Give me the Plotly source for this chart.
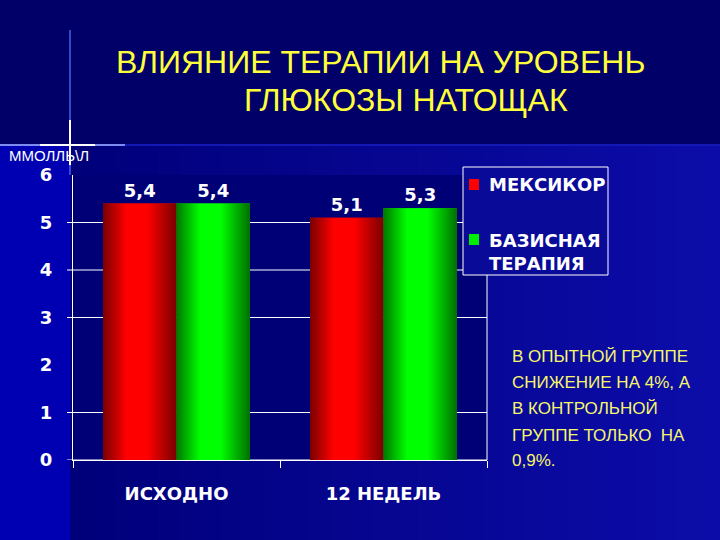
import plotly.graph_objects as go

# ---------------- data ----------------
categories = ["ИСХОДНО", "12 НЕДЕЛЬ"]
series_names = ["МЕКСИКОР", "БАЗИСНАЯ ТЕРАПИЯ"]
mexicor = [5.4, 5.1]
basic = [5.4, 5.3]
y_tick_vals = [0, 1, 2, 3, 4, 5, 6]
grid_vals = [0, 1, 3, 4, 5]
title_lines = ["ВЛИЯНИЕ ТЕРАПИИ НА УРОВЕНЬ", "ГЛЮКОЗЫ НАТОЩАК"]
unit_label = "ММОЛЛЬ\\Л"
legend_lines = [["МЕКСИКОР"], ["БАЗИСНАЯ", "ТЕРАПИЯ"]]
note_lines = ["В ОПЫТНОЙ ГРУППЕ", "СНИЖЕНИЕ НА 4%, А", "В КОНТРОЛЬНОЙ",
              "ГРУППЕ ТОЛЬКО  НА", "0,9%."]

# ---------------- styling ----------------
W, H = 720, 540
PL, PT, PR, PB = 73, 175, 487, 460
BARGAP = 0.29
solid = ["#ff0000", "#00ee00"]
grads = [
    [[0, "#780000"], [0.32, "#ff0000"], [0.6, "#ff0000"], [1, "#7a0000"]],
    [[0, "#007800"], [0.32, "#00ff00"], [0.6, "#00ff00"], [1, "#006e00"]],
]
BOLD = dict(family="DejaVu Sans", size=18, color="white", weight="bold")


def px(x):
    return x / W


def py(y):
    return 1 - y / H


xpos = list(range(len(categories)))
series = [mexicor, basic]
bar_w = (1 - BARGAP) / len(series)

fig = go.Figure()
for i, (name, vals) in enumerate(zip(series_names, series)):
    fig.add_bar(x=xpos, y=vals, name=name, marker_color=solid[i],
                marker_line_width=0, texttemplate="%{y:.1f}",
                textposition="outside", textfont=BOLD, cliponaxis=False,
                showlegend=False, offsetgroup=str(i))

# gradient overlays computed from the same values / bar geometry
for i, vals in enumerate(series):
    for j, v in enumerate(vals):
        x0 = xpos[j] - (1 - BARGAP) / 2 + i * bar_w
        x1 = x0 + bar_w
        fig.add_scatter(x=[x0, x1, x1, x0, x0], y=[0, 0, v, v, 0],
                        mode="lines", fill="toself",
                        fillgradient=dict(type="horizontal", colorscale=grads[i]),
                        line=dict(width=0), hoverinfo="skip", showlegend=False)

shapes = []
# lower background gradient (stripes)
N = 30
c0, c1 = (0, 0, 0x7a), (0x0c, 0x0c, 0xa8)
for k in range(N):
    t = k / (N - 1)
    col = "rgb(%d,%d,%d)" % tuple(round(a + (b - a) * t) for a, b in zip(c0, c1))
    xa = 70 + (W - 70) * k / N
    xb = 70 + (W - 70) * (k + 1) / N + 1
    shapes.append(dict(type="rect", xref="paper", yref="paper", layer="below",
                       x0=px(xa), x1=px(xb), y0=py(540), y1=py(145),
                       fillcolor=col, line_width=0))
shapes.append(dict(type="rect", xref="paper", yref="paper", layer="below",
                   x0=0, x1=px(70), y0=0, y1=py(145), fillcolor="#0000b2", line_width=0))
shapes.append(dict(type="rect", xref="paper", yref="paper", layer="below",
                   x0=px(70), x1=px(PR), y0=py(PB), y1=py(PT), fillcolor="#000076", line_width=0))
# decorative flare lines
shapes.append(dict(type="line", xref="paper", yref="paper", layer="below",
                   x0=0, x1=1, y0=py(145), y1=py(145), line=dict(color="#1418b4", width=2)))
shapes.append(dict(type="line", xref="paper", yref="paper", layer="below",
                   x0=0, x1=px(125), y0=py(145), y1=py(145), line=dict(color="rgba(150,170,255,0.8)", width=2)))
shapes.append(dict(type="line", xref="paper", yref="paper", layer="below",
                   x0=px(40), x1=px(95), y0=py(145), y1=py(145), line=dict(color="white", width=2)))
shapes.append(dict(type="line", xref="paper", yref="paper", layer="below",
                   x0=px(70), x1=px(70), y0=py(175), y1=py(30), line=dict(color="rgba(90,120,255,0.6)", width=2)))
shapes.append(dict(type="line", xref="paper", yref="paper", layer="below",
                   x0=px(70), x1=px(70), y0=py(165), y1=py(120), line=dict(color="white", width=2)))
# gridlines with their outside tick marks
for g in grid_vals:
    shapes.append(dict(type="line", xref="paper", yref="y", layer="below",
                       x0=px(PL - 6), x1=px(PR), y0=g, y1=g,
                       line=dict(color="white", width=1)))
# plot right border
shapes.append(dict(type="line", xref="paper", yref="paper", layer="above",
                   x0=px(PR), x1=px(PR), y0=py(PB), y1=py(PT), line=dict(color="white", width=1)))
# legend box
shapes.append(dict(type="rect", xref="paper", yref="paper", layer="above",
                   x0=px(463), x1=px(608), y0=py(275), y1=py(167),
                   fillcolor="#0a0a98", line=dict(color="white", width=1)))
leg_sq_y = [(179, 190), (234, 245)]
for i, (ya, yb) in enumerate(leg_sq_y):
    shapes.append(dict(type="rect", xref="paper", yref="paper", layer="above",
                       x0=px(469), x1=px(479), y0=py(yb), y1=py(ya),
                       fillcolor=solid[i], line_width=0))

annotations = []
title_pos = [(114, 62), (242, 100)]
for txt, (x, y) in zip(title_lines, title_pos):
    annotations.append(dict(text=txt, xref="paper", yref="paper", x=px(x), y=py(y),
                            xanchor="left", yanchor="middle", showarrow=False,
                            font=dict(family="Liberation Sans", size=32, color="#ffff3a")))
annotations.append(dict(text=unit_label, xref="paper", yref="paper", x=px(7), y=py(156),
                        xanchor="left", yanchor="middle", showarrow=False,
                        font=dict(family="Liberation Sans", size=15, color="white")))
leg_text_y = [[185], [240, 263]]
for lines, ys in zip(legend_lines, leg_text_y):
    for txt, y in zip(lines, ys):
        annotations.append(dict(text=txt, xref="paper", yref="paper", x=px(487), y=py(y),
                                xanchor="left", yanchor="middle", showarrow=False, font=BOLD))
note_y = [356, 382, 408, 435, 460]
for txt, y in zip(note_lines, note_y):
    annotations.append(dict(text=txt, xref="paper", yref="paper", x=px(510), y=py(y),
                            xanchor="left", yanchor="middle", showarrow=False,
                            font=dict(family="Liberation Sans", size=17, color="#f6f66a")))

fig.update_layout(
    width=W, height=H, margin=dict(l=0, r=0, t=0, b=0),
    paper_bgcolor="#000068", plot_bgcolor="rgba(0,0,0,0)",
    barmode="group", bargap=BARGAP, bargroupgap=0, separators=", ",
    showlegend=False, shapes=shapes, annotations=annotations,
    xaxis=dict(domain=[px(PL), px(PR)], range=[-0.5, len(categories) - 0.5],
               tickvals=xpos, ticktext=categories, ticks="", showline=True,
               linecolor="white", linewidth=1, showgrid=False, zeroline=False,
               tickfont=BOLD, ticklabelstandoff=17, automargin=False, fixedrange=True,
               minor=dict(tickmode="array", tickvals=[-0.5, 0.5, 1.5], ticks="outside",
                          ticklen=7, tickcolor="white", tickwidth=1, showgrid=False)),
    yaxis=dict(domain=[py(PB), py(PT)], range=[0, 6], tickvals=y_tick_vals,
               ticks="", showgrid=False, showline=True, linecolor="white",
               linewidth=1, zeroline=False, automargin=False, fixedrange=True,
               tickfont=BOLD, ticklabelstandoff=16),
)

fig.write_html("out.html", config={"displayModeBar": False},
               post_script="document.body.style.margin='0';")
